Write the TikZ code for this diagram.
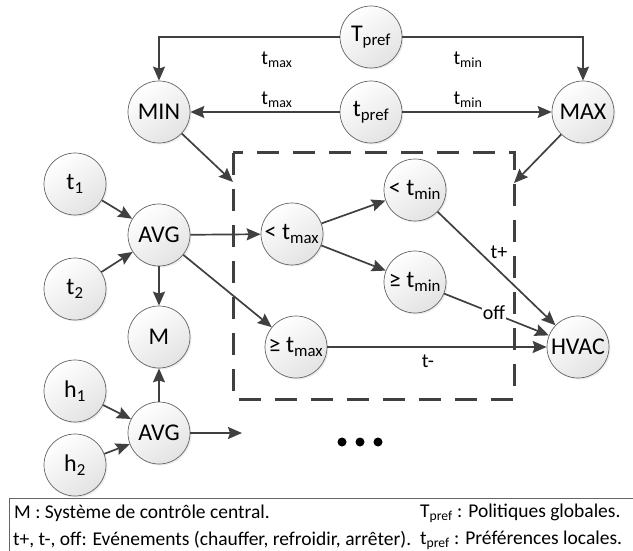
\documentclass[tikz,border=0pt]{standalone}
\usepackage{fontspec}
\setmainfont{Carlito}
\usetikzlibrary{arrows.meta,shadows}
\begin{document}
\begin{tikzpicture}[x=1pt,y=-1pt,
  nd/.style={circle, draw=black!60, line width=0.7pt, minimum size=62pt, inner sep=0pt,
    top color=white, bottom color=black!11, shading angle=35,
    drop shadow={opacity=0.15, shadow xshift=1.5pt, shadow yshift=-1.5pt},
    font=\fontsize{24}{26}\selectfont, text=black},
  arr/.style={draw=black!75, line width=1.7pt, -{Stealth[length=14pt,width=12pt,inset=2pt]}},
  lbl/.style={font=\fontsize{20}{22}\selectfont, inner sep=0pt},
  leg/.style={font=\fontsize{19.5}{22}\selectfont, inner sep=0pt, anchor=west},
  dashbox/.style={draw=black!75, line width=3pt, dash pattern=on 22pt off 14pt},
  dotn/.style={circle, fill=black, inner sep=0pt, minimum size=9pt},
]
\useasboundingbox (0,0) rectangle (633,551);

% nodes
\node[nd] (Tp) at (371,37) {T\textsubscript{pref}};
\node[nd] (MIN) at (159,112) {MIN};
\node[nd] (tp) at (371,112) {t\textsubscript{pref}};
\node[nd] (MAX) at (583,112) {MAX};
\node[nd] (t1) at (75,184) {t\textsubscript{1}};
\node[nd] (avg1) at (159,235) {AVG};
\node[nd] (t2) at (75,289) {t\textsubscript{2}};
\node[nd] (M) at (159,337) {M};
\node[nd] (h1) at (75,391) {h\textsubscript{1}};
\node[nd] (avg2) at (159,433) {AVG};
\node[nd] (h2) at (75,465) {h\textsubscript{2}};
\node[nd] (ltmax) at (292,234) {< t\textsubscript{max}};
\node[nd] (ltmin) at (415,190) {< t\textsubscript{min}};
\node[nd] (getmin) at (415,282) {≥ t\textsubscript{min}};
\node[nd] (getmax) at (296,347) {≥ t\textsubscript{max}};
\node[nd] (hvac) at (578,347) {HVAC};

% dashed box
\draw[dashbox] (233,153) rectangle (514,399);
\coordinate (inL) at (233,182);
\coordinate (inR) at (514,183);
\coordinate (out2) at (242,433);

% connectors
\draw[arr] (Tp.west) -| (MIN.north);
\draw[arr] (Tp.east) -| (MAX.north);
\draw[arr] (tp) -- (MIN);
\draw[arr] (tp) -- (MAX);
\draw[arr] (MIN) -- (inL);
\draw[arr] (MAX) -- (inR);
\draw[arr] (t1) -- (avg1);
\draw[arr] (t2) -- (avg1);
\draw[arr] (h1) -- (avg2);
\draw[arr] (h2) -- (avg2);
\draw[arr] (avg1) -- (M);
\draw[arr] (avg2) -- (M);
\draw[arr] (avg2) -- (out2);
\draw[arr] (avg1) -- (ltmax);
\draw[arr] (avg1) -- (getmax);
\draw[arr] (ltmax) -- (ltmin);
\draw[arr] (ltmax) -- (getmin);
\draw[arr] (ltmin) -- (hvac);
\draw[arr] (getmin) -- (hvac);
\draw[arr] (getmax) -- (hvac);

% edge labels
\node[lbl] (la) at (277,60) {t\textsubscript{max}};
\node[lbl] (lb) at (468,60) {t\textsubscript{min}};
\node[lbl] (lc) at (277,100) {t\textsubscript{max}};
\node[lbl] (ld) at (468,100) {t\textsubscript{min}};
\node[lbl] (le) at (499,252) {t+};
\node[lbl, fill=white, inner sep=1pt] (lf) at (494,313) {off};
\node[lbl] (lg) at (428,361) {t-};

% dots
\node[dotn] (d1) at (342,442) {};
\node[dotn] (d2) at (360,442) {};
\node[dotn] (d3) at (378,442) {};

% legend
\draw[draw=black!60, line width=1pt] (9,498) rectangle (634,552);
\node[leg] (lg1) at (14,513) {M : Système de contrôle central.};
\node[leg] (lg2) at (13,540) {t+, t-, off: Evénements (chauffer, refroidir, arrêter).};
\node[leg] (lg3) at (420,513) {T\textsubscript{pref} : Politiques globales.};
\node[leg] (lg4) at (420,540) {t\textsubscript{pref} : Préférences locales.};
\end{tikzpicture}
\end{document}
